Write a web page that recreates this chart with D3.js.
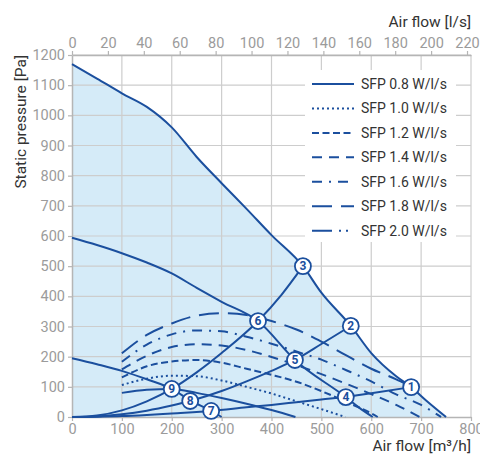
<!DOCTYPE html>
<html><head><meta charset="utf-8">
<script src="https://cdn.jsdelivr.net/npm/d3@7"></script>
<style>body{margin:0;background:#fff}svg{display:block;font-family:Roboto,"Noto Sans",sans-serif}</style>
</head><body><svg id="c" width="480" height="457"></svg>
<script>
// ---- data ----
const flowTicks = [0,100,200,300,400,500,600,700,800];
const lsTicks = [0,20,40,60,80,100,120,140,160,180,200,220];
const pressureTicks = [0,100,200,300,400,500,600,700,800,900,1000,1100,1200];

const fanHigh = [[0,1170],[50,1122],[100,1073],[150,1028],[200,960],[250,862],[300,775],[350,690],[400,603],[463,500],[500,412],[559,302],[600,212],[650,135],[680,99],[710,55],[750,0]];
const fanMid = [[0,594],[50,570],[100,543],[150,512],[200,476],[250,428],[300,382],[373,318],[447,189],[549,66],[575,32],[603,0]];
const fanLow = [[0,195],[50,175],[100,153],[150,125],[200,93],[237,55],[279,20],[300,0]];

const sysA = [[0,0],[50,5],[100,22],[150,52],[200,93],[250,148],[300,212],[373,318],[420,405],[463,500]];
const sysB = [[0,0],[50,2],[100,9],[150,21],[200,38],[237,53],[300,86],[350,118],[400,153],[447,189],[500,242],[559,302]];
const sysC = [[0,0],[50,1],[100,3],[150,7],[200,12],[279,20],[350,32],[400,40],[450,49],[500,58],[549,66],[600,79],[680,99]];

const sfp08 = [[100,80],[150,90],[200,93],[250,80],[300,63],[350,44],[400,23],[448,0]];
const sfp10 = [[100,106],[150,127],[200,137],[250,135],[300,121],[350,100],[400,78],[450,52],[500,26],[548,0]];
const sfp12 = [[100,131],[150,168],[200,184],[250,189],[300,180],[350,160],[400,140],[450,117],[500,86],[550,50],[600,12],[613,0]];
const sfp14 = [[100,158],[150,203],[200,232],[250,241],[300,237],[350,222],[400,199],[450,172],[500,142],[550,110],[600,76],[650,40],[697,0]];
const sfp16 = [[100,183],[150,240],[200,274],[250,287],[300,284],[350,266],[400,243],[450,217],[500,190],[550,155],[600,118],[650,75],[700,40],[740,0]];
const sfp18 = [[100,211],[150,272],[200,310],[250,336],[300,344],[350,338],[400,318],[450,290],[500,250],[550,204],[600,160],[650,125],[672,108]];

const legendLabels = ["SFP 0.8 W/l/s","SFP 1.0 W/l/s","SFP 1.2 W/l/s","SFP 1.4 W/l/s","SFP 1.6 W/l/s","SFP 1.8 W/l/s","SFP 2.0 W/l/s"];
const legendDashes = ["none","2,3","7,3.5","10,7","10,7,2,7","20,9","20,7,2,5,2,7"];

const pointIds = [1,2,3,4,5,6,7,8,9];
const pointX = [680,559,463,549,447,373,279,237,200];
const pointY = [99,302,500,66,189,318,20,53,93];

// ---- drawing ----
const W = 480, H = 457;
const m = {l:72, r:9, t:55, b:40};
const svg = d3.select("#c");
const x = d3.scaleLinear().domain([0,800]).range([m.l, W-m.r]);
const xTop = d3.scaleLinear().domain([0,800/3.6]).range([m.l, W-m.r]);
const y = d3.scaleLinear().domain([0,1200]).range([H-m.b, m.t]);
const blue = "#1b4f9e";
const gridC = "#cdcdcd", axisC = "#b5b5b5", tickTextC = "#9b9b9b";

// fill under max fan curve
svg.append("path").datum(fanHigh)
  .attr("fill","#d5ebf8")
  .attr("d", d3.area().x(d=>x(d[0])).y0(y(0)).y1(d=>y(d[1])).curve(d3.curveMonotoneX));

// grid
const g = svg.append("g");
g.selectAll(".vg").data(flowTicks.slice(1)).join("line")
  .attr("x1",d=>x(d)).attr("x2",d=>x(d)).attr("y1",y(0)).attr("y2",y(1200))
  .attr("stroke",gridC).attr("stroke-width",1.2);
g.selectAll(".hg").data(pressureTicks.slice(1)).join("line")
  .attr("x1",x(0)).attr("x2",x(800)).attr("y1",d=>y(d)).attr("y2",d=>y(d))
  .attr("stroke",gridC).attr("stroke-width",1.2);

function styleAxis(sel){
  sel.select(".domain").attr("stroke",axisC).attr("stroke-width",1.5);
  sel.selectAll(".tick line").attr("stroke",axisC).attr("stroke-width",1.2);
  sel.selectAll(".tick text").attr("fill",tickTextC).attr("font-size",14.5).attr("font-family","Roboto, sans-serif");
}
const fmt = d3.format("d");
svg.append("g").attr("transform",`translate(0,${y(0)})`)
  .call(d3.axisBottom(x).tickValues(flowTicks).tickFormat(fmt).tickSize(4).tickPadding(3).tickSizeOuter(0)).call(styleAxis);
svg.append("g").attr("transform",`translate(0,${y(1200)})`)
  .call(d3.axisTop(xTop).tickValues(lsTicks).tickFormat(fmt).tickSize(4).tickPadding(3).tickSizeOuter(0)).call(styleAxis);
svg.append("g").attr("transform",`translate(${x(0)},0)`)
  .call(d3.axisLeft(y).tickValues(pressureTicks).tickFormat(fmt).tickSize(4).tickPadding(3).tickSizeOuter(0)).call(styleAxis);

// titles
svg.append("text").attr("x",x(800)).attr("y",27).attr("text-anchor","end")
  .attr("font-size",15.5).attr("fill","#333").text("Air flow [l/s]");
svg.append("text").attr("x",x(800)).attr("y",451).attr("text-anchor","end")
  .attr("font-size",15.5).attr("fill","#333").text("Air flow [m³/h]");
svg.append("text").attr("transform",`translate(26,${y(1200)}) rotate(-90)`).attr("text-anchor","end")
  .attr("font-size",15.5).attr("fill","#333").text("Static pressure [Pa]");

// curves
const line = d3.line().x(d=>x(d[0])).y(d=>y(d[1])).curve(d3.curveMonotoneX);
const curves = [
  {d:fanHigh, dash:"none"},{d:fanMid, dash:"none"},{d:fanLow, dash:"none"},
  {d:sysA, dash:"none"},{d:sysB, dash:"none"},{d:sysC, dash:"none"},
  {d:sfp08, dash:legendDashes[0]},{d:sfp10, dash:legendDashes[1]},{d:sfp12, dash:legendDashes[2]},
  {d:sfp14, dash:legendDashes[3]},{d:sfp16, dash:legendDashes[4]},{d:sfp18, dash:legendDashes[5]}
];
svg.append("g").selectAll("path").data(curves).join("path")
  .attr("d",c=>line(c.d)).attr("fill","none").attr("stroke",blue)
  .attr("stroke-width",2).attr("stroke-dasharray",c=>c.dash);

// operating points
const pts = svg.append("g").selectAll("g").data(pointIds).join("g")
  .attr("transform",(d,i)=>`translate(${x(pointX[i])},${y(pointY[i])})`);
pts.append("circle").attr("r",8).attr("fill","#fff").attr("stroke",blue).attr("stroke-width",1.8);
pts.append("text").attr("text-anchor","middle").attr("dy","0.36em")
  .attr("font-size",12).attr("font-weight","bold").attr("fill",blue).text(d=>d);

// legend
const lg = svg.append("g");
lg.append("rect").attr("x",305).attr("y",70).attr("width",151).attr("height",172).attr("fill","#fff");
const items = lg.selectAll("g").data(legendLabels).join("g")
  .attr("transform",(d,i)=>`translate(0,${84 + i*24.45})`);
items.append("line").attr("x1",312).attr("x2",354).attr("y1",0).attr("y2",0)
  .attr("stroke",blue).attr("stroke-width",2).attr("stroke-dasharray",(d,i)=>legendDashes[i]);
items.append("text").attr("x",361).attr("dy","0.35em").attr("font-size",14)
  .attr("fill","#333").text(d=>d);
</script></body></html>
